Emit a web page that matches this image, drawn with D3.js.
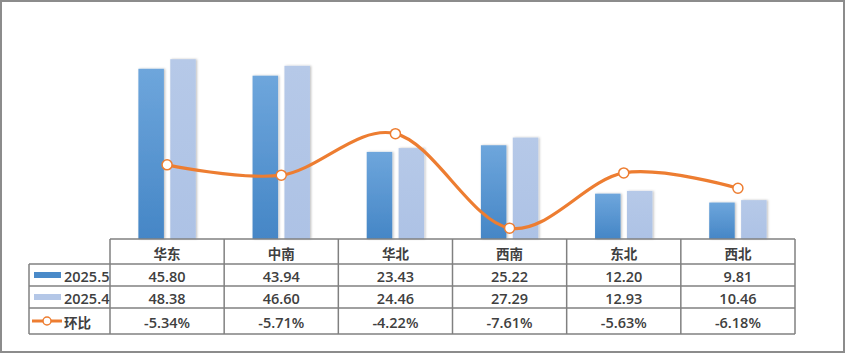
<!DOCTYPE html>
<html>
<head>
<meta charset="utf-8">
<script src="https://cdn.jsdelivr.net/npm/d3@7"></script>
<style>
  html, body { margin: 0; padding: 0; background: #fff; }
  svg { display: block; font-family: "Open Sans", "Noto Sans CJK SC", sans-serif; }
</style>
</head>
<body>
<svg id="chart"></svg>
<script>
// data
const categories = ['华东', '中南', '华北', '西南', '东北', '西北'];
const may = [45.80, 43.94, 23.43, 25.22, 12.20, 9.81];
const april = [48.38, 46.60, 24.46, 27.29, 12.93, 10.46];
const mom = [-5.34, -5.71, -4.22, -7.61, -5.63, -6.18];
const seriesNames = ['2025.5', '2025.4', '环比'];

const width = 845, height = 353;
const plot = { left: 110, right: 795, top: 16, bottom: 239 };
const rowLines = [239, 264, 286, 308, 334];
const legendLeft = 29;

const svg = d3.select('#chart')
  .attr('width', width)
  .attr('height', height);

const defs = svg.append('defs');
const grad = defs.append('linearGradient')
  .attr('id', 'blueGrad').attr('x1', 0).attr('y1', 0).attr('x2', 0).attr('y2', 1);
grad.append('stop').attr('offset', '0%').attr('stop-color', '#6ea6dc');
grad.append('stop').attr('offset', '100%').attr('stop-color', '#4586c6');
const grad2 = defs.append('linearGradient')
  .attr('id', 'lightGrad').attr('x1', 0).attr('y1', 0).attr('x2', 0).attr('y2', 1);
grad2.append('stop').attr('offset', '0%').attr('stop-color', '#b6c9e8');
grad2.append('stop').attr('offset', '100%').attr('stop-color', '#adc2e5');
const shadow = defs.append('filter').attr('id', 'shadow')
  .attr('x', '-20%').attr('y', '-20%').attr('width', '160%').attr('height', '140%');
shadow.append('feDropShadow')
  .attr('dx', 1.2).attr('dy', 0).attr('stdDeviation', 0.8)
  .attr('flood-color', '#000').attr('flood-opacity', 0.25);

// outer frame
svg.append('rect')
  .attr('x', 1).attr('y', 1).attr('width', width - 2).attr('height', height - 2)
  .attr('fill', '#fff').attr('stroke', '#8c8c8c').attr('stroke-width', 2);

// scales
const x0 = d3.scaleBand()
  .domain(categories)
  .range([plot.left, plot.right])
  .padding(0);

const x1 = d3.scaleBand()
  .domain([0, 1])
  .range([0, x0.bandwidth()])
  .paddingInner(0.2)
  .paddingOuter(0.89);

const y = d3.scaleLinear()
  .domain([0, 60])
  .range([plot.bottom, plot.top]);

const y2 = d3.scaleLinear()
  .domain([-8, 0])
  .range([plot.bottom, plot.top]);

// bars
const groups = svg.append('g')
  .selectAll('g')
  .data(categories)
  .join('g')
  .attr('transform', d => `translate(${x0(d)},0)`);

groups.append('rect')
  .attr('x', x1(0))
  .attr('width', x1.bandwidth())
  .attr('y', (d, i) => y(may[i]))
  .attr('height', (d, i) => y(0) - y(may[i]))
  .attr('fill', 'url(#blueGrad)')
  .attr('filter', 'url(#shadow)');

groups.append('rect')
  .attr('x', x1(1))
  .attr('width', x1.bandwidth())
  .attr('y', (d, i) => y(april[i]))
  .attr('height', (d, i) => y(0) - y(april[i]))
  .attr('fill', 'url(#lightGrad)')
  .attr('filter', 'url(#shadow)');

// smooth line on secondary axis
const cx = d => x0(d) + x0.bandwidth() / 2;
const line = d3.line()
  .x((d, i) => cx(categories[i]))
  .y(d => y2(d))
  .curve(d3.curveCardinal.tension(0));

svg.append('path')
  .datum(mom)
  .attr('d', line)
  .attr('fill', 'none')
  .attr('stroke', '#ed7d31')
  .attr('stroke-width', 3.2)
  .attr('stroke-linecap', 'round');

svg.append('g')
  .selectAll('circle')
  .data(mom)
  .join('circle')
  .attr('cx', (d, i) => cx(categories[i]))
  .attr('cy', d => y2(d))
  .attr('r', 5)
  .attr('fill', '#fff')
  .attr('stroke', '#ed7d31')
  .attr('stroke-width', 1.5);

// data table
const grid = svg.append('g')
  .attr('stroke', '#808080')
  .attr('stroke-width', 1.5)
  .attr('fill', 'none');

// horizontal lines
rowLines.forEach((ry, i) => {
  grid.append('line')
    .attr('x1', i === 0 ? plot.left : legendLeft)
    .attr('x2', plot.right)
    .attr('y1', ry).attr('y2', ry);
});
// vertical lines at column borders
const colEdges = categories.map(c => x0(c)).concat([plot.right]);
colEdges.forEach(cxv => {
  grid.append('line')
    .attr('x1', cxv).attr('x2', cxv)
    .attr('y1', rowLines[0]).attr('y2', rowLines[4]);
});
grid.append('line')
  .attr('x1', legendLeft).attr('x2', legendLeft)
  .attr('y1', rowLines[1]).attr('y2', rowLines[4]);

const rowMid = i => (rowLines[i] + rowLines[i + 1]) / 2;
const textStyle = sel => sel
  .attr('fill', '#404040')
  .attr('font-size', 14.5)
  .attr('font-weight', 600)
  .attr('dominant-baseline', 'central');

const tableRows = [
  categories,
  may.map(v => v.toFixed(2)),
  april.map(v => v.toFixed(2)),
  mom.map(v => v.toFixed(2) + '%')
];

tableRows.forEach((row, ri) => {
  svg.append('g')
    .selectAll('text')
    .data(row)
    .join('text')
    .attr('x', (d, i) => cx(categories[i]))
    .attr('y', rowMid(ri) + 1)
    .attr('text-anchor', 'middle')
    .text(d => d)
    .call(textStyle)
    .attr('font-family', ri === 0 ? '"Noto Sans CJK SC", sans-serif' : null)
    .attr('font-weight', ri === 0 ? 700 : 600)
    .attr('font-size', ri === 0 ? 13.5 : 14.5);
});

// legend keys in first column
const lg = svg.append('g');
lg.append('rect')
  .attr('x', 34).attr('y', rowMid(1) - 3).attr('width', 27).attr('height', 6)
  .attr('fill', '#4a8ac9');
lg.append('rect')
  .attr('x', 34).attr('y', rowMid(2) - 3).attr('width', 27).attr('height', 6)
  .attr('fill', '#b4c7e7');
lg.append('line')
  .attr('x1', 32).attr('x2', 62).attr('y1', rowMid(3)).attr('y2', rowMid(3))
  .attr('stroke', '#ed7d31').attr('stroke-width', 3);
lg.append('circle')
  .attr('cx', 47).attr('cy', rowMid(3)).attr('r', 4)
  .attr('fill', '#fff').attr('stroke', '#ed7d31').attr('stroke-width', 1.5);

seriesNames.forEach((name, i) => {
  lg.append('text')
    .attr('x', 64)
    .attr('y', rowMid(i + 1) + 1)
    .text(name)
    .call(textStyle)
    .attr('font-family', i === 2 ? '"Noto Sans CJK SC", sans-serif' : null)
    .attr('font-weight', i === 2 ? 700 : 600)
    .attr('font-size', i === 2 ? 13.5 : 14.5);
});
</script>
</body>
</html>
